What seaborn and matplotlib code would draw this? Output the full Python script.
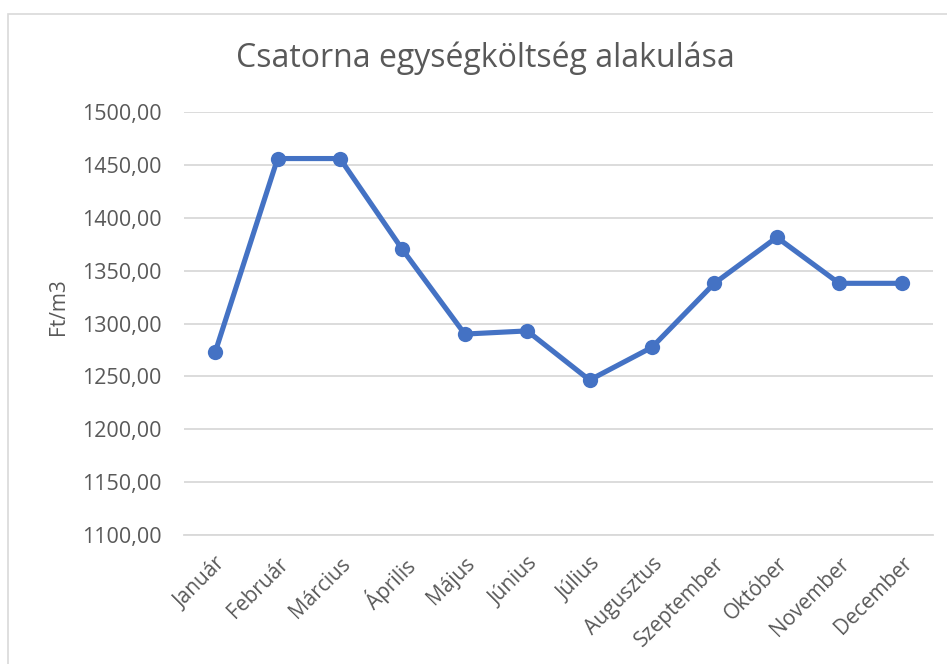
import pandas as pd
import seaborn as sns
import matplotlib.pyplot as plt
from matplotlib.patches import Rectangle

# Adatok
honapok = ['Január', 'Február', 'Március', 'Április', 'Május', 'Június',
           'Július', 'Augusztus', 'Szeptember', 'Október', 'November', 'December']
koltseg = [1273, 1456, 1456, 1370, 1290, 1293, 1246.5, 1277.5, 1338, 1381.5, 1338, 1338]
y_tickek = [1100, 1150, 1200, 1250, 1300, 1350, 1400, 1450, 1500]

df = pd.DataFrame({'Hónap': honapok, 'Ft/m3': koltseg})

sns.set_style('white')
plt.rcParams['font.family'] = ['Open Sans', 'DejaVu Sans']

szoveg_szin = '#595959'
racs_szin = '#D9D9D9'

fig = plt.figure(figsize=(9.47, 6.64), dpi=100)
ax = fig.add_axes([0.1943, 0.1943, 0.985 - 0.1943, 0.8313 - 0.1943])

# keret a diagram körül
fig.patches.append(Rectangle((8 / 947, -0.1), 1.2, 1 - 14 / 664 + 0.1,
                             transform=fig.transFigure, fill=False,
                             edgecolor=racs_szin, linewidth=1.2))

sns.lineplot(data=df, x='Hónap', y='Ft/m3', sort=False, color='#4472C4',
             linewidth=3.7, marker='o', markersize=11, markeredgewidth=0, ax=ax)

ax.set_ylim(1100, 1500)
ax.set_xlim(-0.5, len(honapok) - 0.5)
ax.set_yticks(y_tickek)
ax.set_yticklabels([f'{v:.2f}'.replace('.', ',') for v in y_tickek])
ax.yaxis.grid(True, color=racs_szin, linewidth=1.3)
ax.set_axisbelow(True)
for s in ['top', 'right', 'left']:
    ax.spines[s].set_visible(False)
ax.spines['bottom'].set_color(racs_szin)
ax.spines['bottom'].set_linewidth(1.3)

ax.tick_params(axis='y', length=0, pad=16, labelsize=15.5, labelcolor=szoveg_szin)
ax.tick_params(axis='x', length=0, pad=13, labelsize=15, labelcolor=szoveg_szin)
plt.setp(ax.get_xticklabels(), rotation=45, ha='right', rotation_mode='anchor')

ax.set_xlabel('')
ax.set_ylabel('')
fig.text(59 / 947, 1 - 307 / 664, 'Ft/m3', rotation=90, ha='center', va='center',
         fontsize=15, color=szoveg_szin)
fig.text(485 / 947, 1 - 58 / 664, 'Csatorna egységköltség alakulása', ha='center',
         va='center', fontsize=23, color=szoveg_szin)

fig.savefig('out.png', dpi=100)
